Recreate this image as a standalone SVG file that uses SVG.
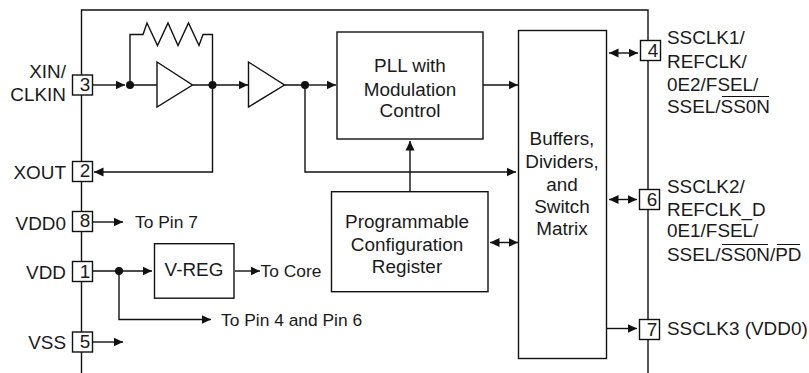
<svg xmlns="http://www.w3.org/2000/svg" width="809" height="373" viewBox="0 0 809 373">
<style>
text{font-family:"Liberation Sans",Arial,sans-serif;font-size:18.9px;fill:#1a1a1a}
.m{text-anchor:middle}.e{text-anchor:end}
.s{font-size:17.4px}
.b{fill:#fff;stroke:#111;stroke-width:1.4}
.l{fill:none;stroke:#111;stroke-width:1.4}
.o{stroke:#111;stroke-width:1.1}
</style>
<defs>
<marker id="a" markerUnits="userSpaceOnUse" markerWidth="11" markerHeight="10" refX="9.500" refY="5" orient="auto-start-reverse"><path d="M0 0.500L9.500 5L0 9.500Z" fill="#111"/></marker>
</defs>
<path id="outline" class="l" d="M81.500 373V10H648V373"/>
<g id="connectors">
<path class="l" marker-end="url(#a)" d="M93 85H125"/>
<path class="l" d="M130 85H157M192.500 85H212.500M284.500 85H305"/>
<path class="l" d="M130 85V34.500H143L147 23L157.500 45.500L168 23L178 45.500L188.500 23L199 45.500L203 34.500H212.500V85"/>
<path class="l" marker-end="url(#a)" d="M212.500 85H248"/>
<path class="l" marker-end="url(#a)" d="M212.500 85V172H94"/>
<path class="l" marker-end="url(#a)" d="M305 85H336"/>
<path class="l" marker-end="url(#a)" d="M305 85V172H516"/>
<path class="l" marker-end="url(#a)" d="M483 85H518"/>
<path class="l" marker-end="url(#a)" d="M410 191V141"/>
<path class="l" marker-start="url(#a)" marker-end="url(#a)" d="M490 242.500H518"/>
<path class="l" marker-start="url(#a)" marker-end="url(#a)" d="M609 53H638"/>
<path class="l" marker-start="url(#a)" marker-end="url(#a)" d="M609 199.500H637"/>
<path class="l" marker-end="url(#a)" d="M607 328.500H637"/>
<path class="l" marker-end="url(#a)" d="M93 222H123"/>
<path class="l" marker-end="url(#a)" d="M93 271H152"/>
<path class="l" marker-end="url(#a)" d="M119 271V319.500H211"/>
<path class="l" marker-end="url(#a)" d="M93 342H123"/>
<path class="l" marker-end="url(#a)" d="M235 271H260"/>
<circle cx="130" cy="85" r="4" fill="#111"/>
<circle cx="212.500" cy="85" r="4" fill="#111"/>
<circle cx="305" cy="85" r="4" fill="#111"/>
<circle cx="119" cy="271" r="4" fill="#111"/>
</g>
<g id="amp1"><path class="b" d="M157 62L192.500 85L157 107Z"/></g>
<g id="amp2"><path class="b" d="M248.500 62L284.500 85L248.500 107Z"/></g>
<g id="pll"><rect class="b" x="337" y="32" width="146" height="107"/>
<text class="m" x="410" y="72">PLL with</text><text class="m" x="410" y="95.500">Modulation</text><text class="m" x="410" y="117">Control</text></g>
<g id="config"><rect class="b" x="331.500" y="191.700" width="156.500" height="100"/>
<text class="m" x="407" y="228">Programmable</text><text class="m" x="407" y="251">Configuration</text><text class="m" x="407" y="273">Register</text></g>
<g id="matrix"><rect class="b" x="518.500" y="30.500" width="88" height="328"/>
<text class="m" x="562" y="145">Buffers,</text><text class="m" x="562" y="167.500">Dividers,</text><text class="m" x="562" y="190.500">and</text><text class="m" x="562" y="213">Switch</text><text class="m" x="562" y="235">Matrix</text></g>
<g id="vreg"><rect class="b" x="154.500" y="243.700" width="79.500" height="54.500"/><text class="m" x="194" y="276">V-REG</text></g>
<g id="pin3"><rect class="b" x="72.500" y="75" width="20" height="20"/><text class="m" x="85" y="91">3</text>
<text class="e" x="66" y="78">XIN/</text><text class="e" x="66" y="101">CLKIN</text></g>
<g id="pin2"><rect class="b" x="72.500" y="161.500" width="20" height="20"/><text class="m" x="85" y="176.500">2</text><text class="e" x="66" y="179">XOUT</text></g>
<g id="pin8"><rect class="b" x="72.500" y="211.500" width="20" height="20"/><text class="m" x="85" y="227">8</text><text class="e" x="66" y="229.500">VDD0</text></g>
<g id="pin1"><rect class="b" x="72.500" y="261.500" width="20" height="20"/><text class="m" x="85" y="278">1</text><text class="e" x="66" y="279">VDD</text></g>
<g id="pin5"><rect class="b" x="72.500" y="332" width="20" height="20"/><text class="m" x="85" y="348">5</text><text class="e" x="66" y="349">VSS</text></g>
<g id="pin4"><rect class="b" x="640.500" y="40.500" width="20" height="20"/><text class="m" x="653" y="57">4</text>
<text x="667" y="44">SSCLK1/</text><text x="667" y="67.500">REFCLK/</text><text x="667" y="91">0E2/FSEL/</text><text x="667" y="113">SSEL/SS0N</text><path class="o" d="M722 96.500H769"/></g>
<g id="pin6"><rect class="b" x="639.500" y="189.500" width="20" height="20"/><text class="m" x="652" y="206">6</text>
<text x="667" y="193">SSCLK2/</text><text x="667" y="215.500">REFCLK_D</text><text x="667" y="237">0E1/FSEL/</text><text x="667" y="260.500">SSEL/SS0N/PD</text><path class="o" d="M722 244.500H768M777 244.500H800"/></g>
<g id="pin7"><rect class="b" x="639.500" y="319.500" width="20" height="20"/><text class="m" x="652" y="336">7</text><text x="667" y="335">SSCLK3 (VDD0)</text></g>
<text class="s" x="135" y="228">To Pin 7</text>
<text class="s" x="260.500" y="277">To Core</text>
<text class="s" x="221" y="326">To Pin 4 and Pin 6</text>
</svg>
